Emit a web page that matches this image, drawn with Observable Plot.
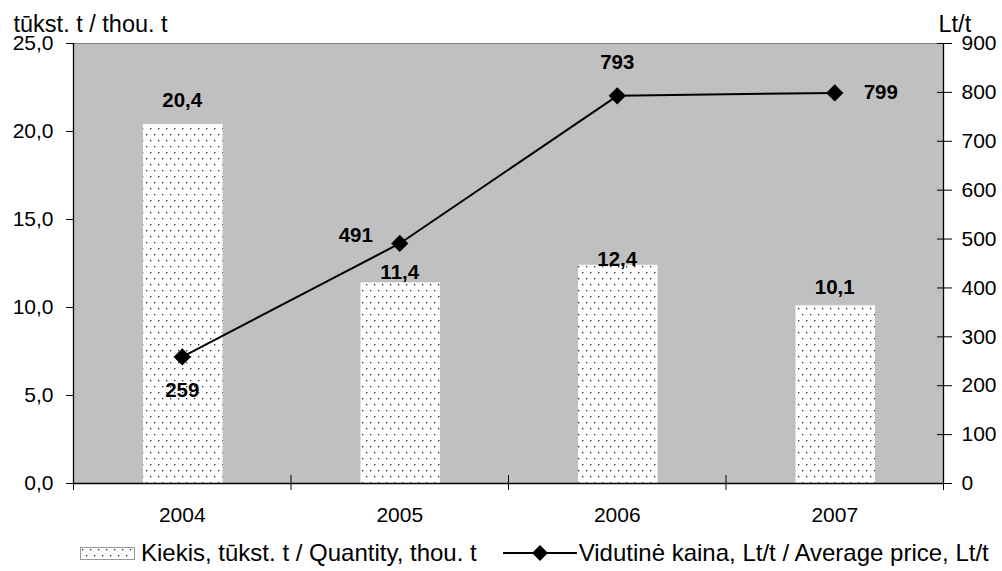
<!DOCTYPE html>
<html><head><meta charset="utf-8">
<script src="https://cdn.jsdelivr.net/npm/d3@7"></script>
<script src="https://cdn.jsdelivr.net/npm/@observablehq/plot@0.6"></script>
<style>
body{margin:0;background:#fff;font-family:"Liberation Sans",Arial,sans-serif;}
#legend{display:flex;align-items:center;height:36px;padding-left:80px;font-size:24px;color:#000;white-space:nowrap;}
#legend .sw{display:block;}
</style></head><body>
<div id="chart"></div>
<div id="legend"></div>
<script>
const years = ["2004", "2005", "2006", "2007"];
const quantity = [20.4, 11.4, 12.4, 10.1];
const price = [259, 491, 793, 799];
const qTicks = [0, 5, 10, 15, 20, 25];
const pTicks = [0, 100, 200, 300, 400, 500, 600, 700, 800, 900];
const seriesNames = ["Kiekis, tūkst. t / Quantity, thou. t", "Vidutinė kaina, Lt/t / Average price, Lt/t"];
const leftUnit = "tūkst. t / thou. t";
const rightUnit = "Lt/t";

const qMax = 25, pMax = 900;
const toQ = p => p * qMax / pMax;
const fmt1 = v => v.toFixed(1).replace(".", ",");
const table = years.map((y, i) => ({year: y, i, q: quantity[i], p: price[i]}));
const cx = d => d.i + 0.5;
const FONT = "Liberation Sans, Arial, sans-serif";

const barLabel = (i, dy) => Plot.text([table[i]], {x: cx, y: "q", text: d => fmt1(d.q), dy, fontWeight: "bold", fontSize: 20.5});
const priceLabel = (i, dx, dy) => Plot.text([table[i]], {x: cx, y: d => toQ(d.p), text: d => String(d.p), dx, dy, fontWeight: "bold", fontSize: 20.5});

const plot = Plot.plot({
  width: 1002, height: 535,
  marginLeft: 73, marginRight: 59, marginTop: 43, marginBottom: 52,
  style: {fontFamily: FONT, fontSize: "21px", color: "#000", background: "#fff"},
  x: {type: "linear", domain: [0, years.length]},
  y: {domain: [0, qMax]},
  marks: [
    Plot.frame({fill: "#c0c0c0", stroke: null}),
    Plot.rectY(table, {x1: "i", x2: d => d.i + 1, y: "q", insetLeft: 70, insetRight: 68, fill: "url(#dots)"}),
    Plot.ruleY([qMax], {stroke: "#808080"}),
    Plot.ruleY([0], {stroke: "#000", strokeWidth: 1.3}),
    Plot.ruleX([0], {stroke: "#000", strokeWidth: 1.3}),
    Plot.ruleX([years.length], {stroke: "#000", strokeWidth: 1.3}),
    Plot.axisY({ticks: qTicks, tickFormat: fmt1, tickSize: 7, tickPadding: 13, label: null}),
    Plot.axisY({anchor: "right", ticks: pTicks.map(toQ), tickFormat: v => String(Math.round(v * pMax / qMax)), tickSize: 15, dx: -7, tickPadding: 10, label: null}),
    Plot.axisX({ticks: d3.range(years.length + 1), tickSize: 15, dy: -8, tickFormat: () => "", label: null}),
    Plot.axisX({ticks: years.map((y, i) => i + 0.5), tickSize: 0, tickPadding: 24, tickFormat: v => years[Math.floor(v)], label: null}),
    Plot.line(table, {x: cx, y: d => toQ(d.p), stroke: "#000", strokeWidth: 2}),
    Plot.dot(table, {x: cx, y: d => toQ(d.p), symbol: "diamond2", r: 7.8, fill: "#000", stroke: null}),
    barLabel(0, -24), barLabel(1, -10), barLabel(2, -6), barLabel(3, -18),
    priceLabel(0, 0, 34), priceLabel(1, -44, -8), priceLabel(2, 0, -33), priceLabel(3, 46, 0),
    Plot.text([leftUnit], {frameAnchor: "top-left", textAnchor: "start", lineAnchor: "top", dx: -60, dy: -28, fontSize: 23.5}),
    Plot.text([rightUnit], {frameAnchor: "top-right", textAnchor: "start", lineAnchor: "top", dx: -5, dy: -28, fontSize: 23.5})
  ]
});

const patternDef = `<pattern id="dots" patternUnits="userSpaceOnUse" width="8" height="12">
  <rect width="8" height="12" fill="#fff"/>
  <rect x="2" y="2" width="1.3" height="1.3" fill="#222"/>
  <rect x="6" y="8" width="1.3" height="1.3" fill="#222"/>
</pattern>`;
d3.select(plot).insert("defs", ":first-child").html(patternDef);
document.getElementById("chart").append(plot);

const legend = document.getElementById("legend");
legend.innerHTML = `
<svg class="sw" width="55" height="13" style="margin-right:6px"><rect x="0.5" y="0.5" width="54" height="12" fill="url(#dots)" stroke="#999"/></svg>
<span>${seriesNames[0]}</span><span style="width:26px"></span>
<svg class="sw" width="74" height="20" style="margin-right:2px"><line x1="0" y1="10" x2="74" y2="10" stroke="#000" stroke-width="2"/><path d="M37,2 L45,10 L37,18 L29,10 Z" fill="#000"/></svg>
<span>${seriesNames[1]}</span>`;
</script>
</body></html>
